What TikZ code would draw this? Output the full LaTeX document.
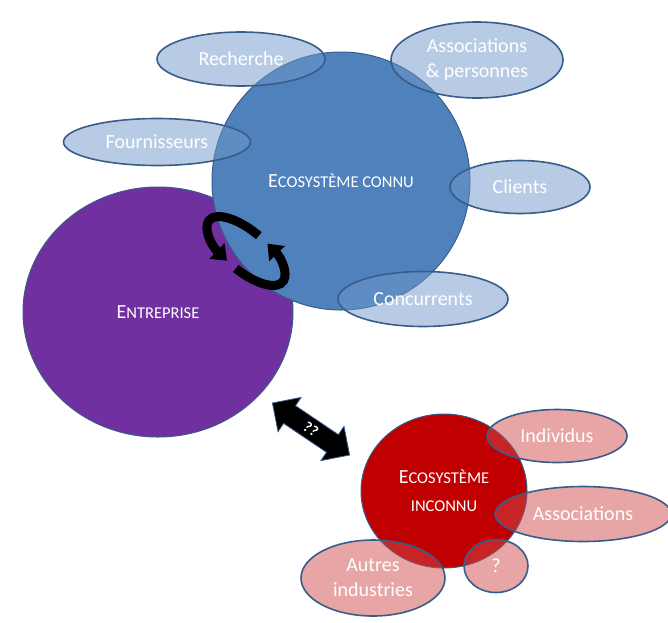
\documentclass[tikz,border=0pt]{standalone}
\usepackage{fontspec}
\setmainfont{Carlito}
\usetikzlibrary{shapes.geometric,shapes.arrows,arrows.meta}
\definecolor{connu}{RGB}{79,129,189}
\definecolor{entreprise}{RGB}{112,48,160}
\definecolor{inconnu}{RGB}{192,0,0}
\definecolor{contour}{RGB}{56,93,138}
\definecolor{bulleconnu}{RGB}{112,152,201}
\definecolor{bulleinconnu}{RGB}{207,75,75}
\newcommand{\petitcaps}[2]{{\fontsize{20}{24}\selectfont #1}{\fontsize{16.5}{20}\selectfont #2}}

\begin{document}
\begin{tikzpicture}[>=stealth,x=1pt,y=-1pt,
		disque/.style={ellipse,draw=contour,line width=1pt,inner sep=0pt,text=white,align=center,font=\fontsize{16.5}{28}\selectfont},
		bulle/.style 2 args={ellipse,draw=contour,line width=1.6pt,minimum width=#1pt,minimum height=#2pt,inner sep=0pt,fill opacity=0.5,text opacity=1,text=white,align=center,font=\fontsize{20}{25}\selectfont},
		cycle/.style={line width=9pt,-{Triangle[width=21pt,length=14pt]}},
		fleche/.style={double arrow,fill=black,draw=contour,line width=0.8pt,minimum height=93pt,inner xsep=4pt,inner ysep=5pt,double arrow head extend=10pt,text=white,font=\bfseries\fontsize{15}{15}\selectfont}]
	\useasboundingbox (0,0) rectangle (668,622);
	
	\node[disque,fill=entreprise,minimum width=270pt,minimum height=250pt] (entreprise) at (158,312) {\petitcaps{E}{NTREPRISE}};
	\node[disque,fill=connu,minimum width=258pt,minimum height=258pt] (connu) at (341,181) {\petitcaps{E}{COSYSTÈME CONNU}};
	\node[disque,fill=inconnu,minimum width=166pt,minimum height=154pt] (inconnu) at (444,491) {\petitcaps{E}{COSYSTÈME}\\INCONNU};
	
	\node[bulle={168}{54},fill=bulleconnu] (recherche) at (241,59) {Recherche};
	\node[bulle={172}{76},fill=bulleconnu] (associations) at (477,60) {Associations\\\& personnes};
	\node[bulle={187}{47},fill=bulleconnu] (fournisseurs) at (157,142) {Fournisseurs};
	\node[bulle={140}{53},fill=bulleconnu] (clients) at (520,187) {Clients};
	\node[bulle={170}{55},fill=bulleconnu] (concurrents) at (423,299) {Concurrents};
	
	\node[bulle={140}{53},fill=bulleinconnu] (individus) at (557,436) {Individus};
	\node[bulle={176}{55},fill=bulleinconnu] (assoc) at (583,514) {Associations};
	\node[bulle={64}{53},fill=bulleinconnu] (inconnue) at (496,566) {?};
	\node[bulle={144}{76},fill=bulleinconnu] (autres) at (373,578) {Autres\\industries};
	
	\begin{scope}[shift={(246,251)},rotate=-40]
		\draw[cycle] (270:48 and 20) arc[start angle=270,end angle=100,x radius=48,y radius=20];
		\draw[cycle] (86:48 and 20) arc[start angle=86,end angle=-76,x radius=48,y radius=20];
	\end{scope}
	
	\node[fleche,rotate=-34] (lien) at (311,429) {?\kern0.5pt?};
\end{tikzpicture}
\end{document}
